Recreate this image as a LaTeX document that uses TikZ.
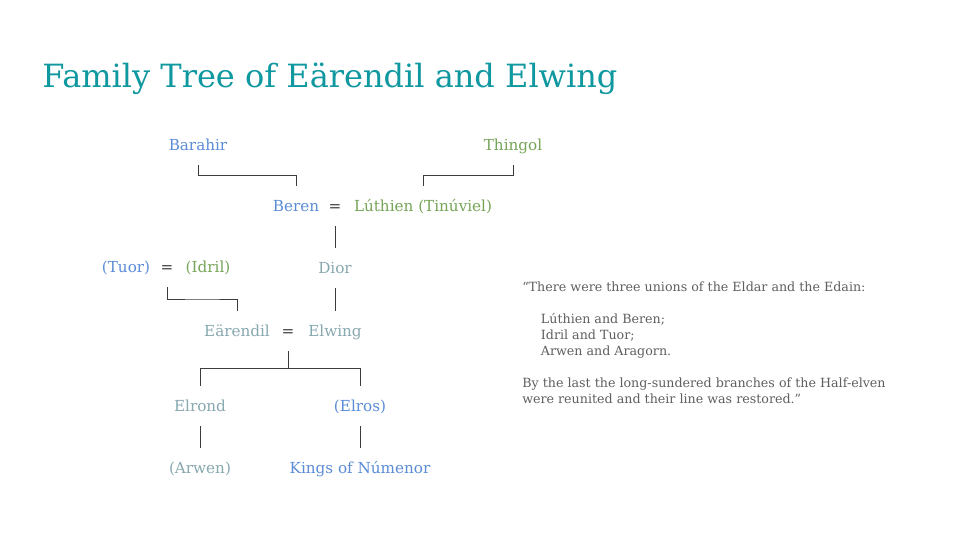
\documentclass[tikz,border=0pt]{standalone}
\usepackage{fontspec}
\setmainfont{DejaVu Serif}
\usepackage{xcolor}
\usepackage{tikz}
\usetikzlibrary{positioning}
\usetikzlibrary{calc}
\definecolor{titleteal}{RGB}{16,152,160}
\definecolor{edainblue}{RGB}{90,140,215}
\definecolor{eldargreen}{RGB}{118,165,88}
\definecolor{halfgray}{RGB}{135,168,175}
\definecolor{quotegray}{RGB}{95,95,95}
\definecolor{linegray}{RGB}{60,60,60}
\tikzstyle{person}=[inner sep=0pt,minimum height=30pt,text height=9.5pt,text depth=2pt,font=\fontsize{11.4}{14}\selectfont]
\tikzstyle{marriage}=[person,text=linegray]
\tikzstyle{link}=[draw=linegray,line width=0.7pt]

\begin{document}
\begin{tikzpicture}[x=0.75pt,y=-0.75pt]

  \useasboundingbox[fill=white] (0,0) rectangle (960,540);

  \node[anchor=base west,inner sep=0pt,text=titleteal,font=\fontsize{24}{30}\selectfont] (title) at (42,87) {Family Tree of Eärendil and Elwing};

  \foreach \x/\y/\name/\label in {198/145/barahir/Barahir, 296/206/beren/Beren, 126/267/tuor/(Tuor), 360/406/elros/(Elros), 360/468/kings/Kings of Númenor}
        \node[person,text=edainblue] (\name) at (\x,\y) {\label};

  \foreach \x/\y/\name/\label in {513/145/thingol/Thingol, 423/206/luthien/Lúthien (Tinúviel), 208/267/idril/(Idril)}
        \node[person,text=eldargreen] (\name) at (\x,\y) {\label};

  \foreach \x/\y/\name/\label in {335/268/dior/Dior, 237/331/earendil/Eärendil, 335/331/elwing/Elwing, 200/406/elrond/Elrond, 200/468/arwen/(Arwen)}
        \node[person,text=halfgray] (\name) at (\x,\y) {\label};

  \foreach \x/\y/\name in {335/206/eqberen, 167/267/eqtuor, 288/331/eqearendil}
        \node[marriage] (\name) at (\x,\y) {=};

  % parents to children
  \draw[link] (barahir.south) |- ($(barahir.south)!0.5!(beren.north)$) -| (beren.north);
  \draw[link] (thingol.south) |- ($(thingol.south)!0.5!(luthien.north)$) -| (luthien.north);
  \draw[link] (eqtuor.south) |- ($(eqtuor.south)!0.5!(earendil.north)$) -| (earendil.north);
  \foreach \source/\dest in {eqberen/dior, dior/elwing, elrond/arwen, elros/kings}
        \draw[link] (\source.south) -- (\dest.north);
  \draw[link] (eqearendil.south) -- ($(eqearendil.south)!0.5!(eqearendil.south|-elros.north)$) coordinate (fork);
  \draw[link] (elrond.north) |- (fork) -| (elros.north);

  \node[anchor=north west,inner sep=0pt,align=left,text=quotegray,font=\fontsize{9.5}{12}\selectfont] (quote) at (522,282) {%
    “There were three unions of the Eldar and the Edain:\\[12pt]
    \hspace*{14pt}Lúthien and Beren;\\
    \hspace*{14pt}Idril and Tuor;\\
    \hspace*{14pt}Arwen and Aragorn.\\[12pt]
    By the last the long-sundered branches of the Half-elven\\
    were reunited and their line was restored.”};

\end{tikzpicture}
\end{document}
